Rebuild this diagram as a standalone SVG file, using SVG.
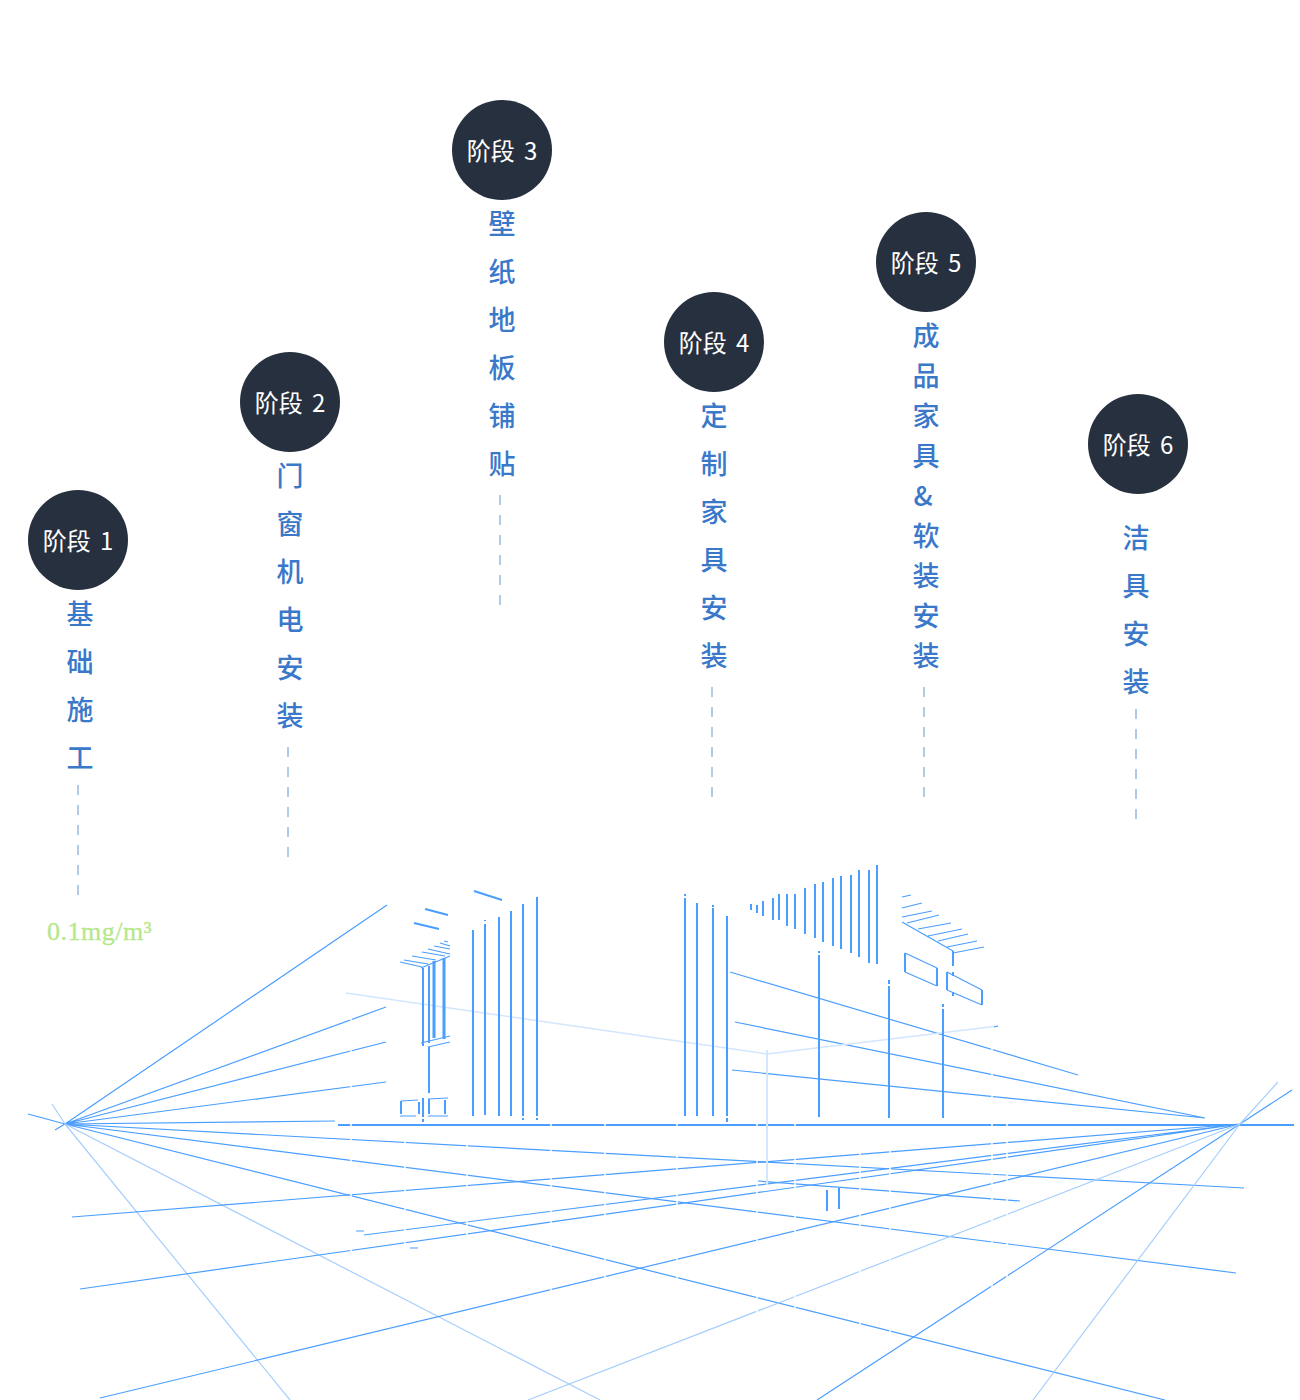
<svg xmlns="http://www.w3.org/2000/svg" width="1300" height="1400" viewBox="0 0 1300 1400">
<style>
text{font-family:"Noto Sans CJK SC","Noto Sans",sans-serif}
.c{fill:#26303f}
.s{fill:#fff;font-size:24px;text-anchor:middle;word-spacing:4px}
.t{fill:#3a78c9;font-size:27px;font-weight:500;text-anchor:middle}
.d{stroke:#96b9e0;stroke-width:1.5;stroke-dasharray:10 10;fill:none}
.b{stroke:#4a9eff;fill:none}
.w1{stroke-width:1.2}
.w2{stroke-width:2}
.w3{stroke-width:3}
.l{stroke:#a6cffb;stroke-width:1.2;fill:none}
.p{stroke:#d3e6fd;stroke-width:1.5;fill:none}
.g{stroke:#fff;stroke-width:1.5;fill:none}
.m{fill:#b4e88a;font-size:26px;font-family:"Liberation Serif",serif;letter-spacing:.5px;stroke:#b4e88a;stroke-width:.3px}
</style>
<g id="connectors">
<path class="d" d="M78 785V895M288 747V857M500 495V605M712 687V797M924 687V797M1136 709V819"/>
<g id="floor">
<path class="b w2" d="M338 1125H1294"/>
<path class="b w1" d="M65 1124L387 905M65 1124L386 1007M65 1124L386 1042M65 1124L386 1082M65 1124L335 1121M65 1124L1244 1188M65 1124L1236 1273M65 1124L1165 1400M28 1114L65 1124M55 1130L65 1124"/>
<path class="l" d="M65 1124L600 1400M65 1124L290 1400M52 1104L65 1124"/>
<path class="b w1" d="M1078 1075L730 972M1205 1118L735 1022M1205 1118L732 1070M1240 1124L72 1217M1240 1124L364 1235M1240 1124L80 1289M1240 1124L100 1398M1240 1124L817 1400M1240 1124L1292 1090"/>
<path class="l" d="M1240 1124L528 1400M1240 1124L1033 1400M1240 1124L1278 1082"/>
<path class="b w1" d="M758 1181L1020 1201M356 1231H364M410 1248H418"/>
<path class="g" d="M351 985V1260M405 1130V1260M467 1130V1300M551 1122V1300M605 1122V1310M677 1122V1320M757 1122V1330M795 1122V1330M860 1130V1340M890 1130V1340M992 1020V1340M1007 1122V1340"/>
</g>
<path class="p" d="M346 993L767 1054L998 1026"/>
<path class="p" style="stroke-width:2" d="M767 1050V1185"/>
</g>
<g id="building-left">
<path class="b w2" d="M473 930V1116M485 924V1115M499 917V1116M511 911V1116M523 904V1116M537 897V1116M523 1118V1120M537 1118V1120M485 920V921M423 1098V1117M423 1119V1122"/>
<path class="b w2" d="M474 891L502 900M425 909L448 915M414 923L439 929"/>
<path class="b w2" d="M423 968V1046M429 966V1043M429 1047V1093"/>
<path class="b w3" d="M434 961V1038M444 958V1039"/>
<path class="b w1" d="M421 1043L450 1036M428 1047L450 1042M421 968L450 956M400 962L422 967M404 960L428 964M412 956L436 960M422 952L445 956M428 949L450 954M434 946L450 949M440 943L450 946M444 941L448 942"/>
<path class="b w1" d="M401 1101L418 1100M400 1116L416 1116M428 1099L448 1098M428 1116L448 1116"/>
<path class="b w2" d="M401 1101V1114M419 1102V1114M429 1099V1114M445 1100V1114"/>
</g>
<g id="building-right">
<path class="b w2" d="M685 898V1116M697 903V1116M713 908V1116M727 916V1116M685 894V896M713 905V907M727 1118V1122M819 955V1117M819 951V953M889 986V1118M889 980V984M943 1009V1118M943 1004V1007"/>
<path class="b w2" d="M751 904V910M757 905V913M763 901V916M773 898V920M779 894V920M787 894V926M795 894V929M805 888V934M815 884V938M823 882V942M833 878V946M841 876V949M851 875V953M859 870V957M869 870V963M877 865V964"/>
<path class="b w1" d="M902 897L911 895M902 908L922 903M902 917L932 911M902 922L953 951M907 923L939 915M918 929L951 923M928 936L962 929M938 941L968 934M947 947L977 941M953 953L984 947M994 1027L998 1026"/>
<path class="b w2" d="M953 951V966M953 972V976M953 992V996"/>
<path class="b w1" d="M905 953L937 968M937 986L905 972M947 972L982 990M982 1005L947 990"/>
<path class="b w2" d="M905 953V972M937 968V986M947 972V990M982 990V1005M827 1190V1211M839 1188V1209"/>
</g>
<g id="stage-1"><circle class="c" cx="78" cy="540" r="50"/><text class="s" x="78" y="550">阶段 1</text>
<text class="t" x="80" y="624">基</text><text class="t" x="80" y="672">础</text><text class="t" x="80" y="720">施</text><text class="t" x="80" y="768">工</text></g>
<g id="stage-2"><circle class="c" cx="290" cy="402" r="50"/><text class="s" x="290" y="412">阶段 2</text>
<text class="t" x="290" y="486">门</text><text class="t" x="290" y="534">窗</text><text class="t" x="290" y="582">机</text><text class="t" x="290" y="630">电</text><text class="t" x="290" y="678">安</text><text class="t" x="290" y="726">装</text></g>
<g id="stage-3"><circle class="c" cx="502" cy="150" r="50"/><text class="s" x="502" y="160">阶段 3</text>
<text class="t" x="502" y="234">壁</text><text class="t" x="502" y="282">纸</text><text class="t" x="502" y="330">地</text><text class="t" x="502" y="378">板</text><text class="t" x="502" y="426">铺</text><text class="t" x="502" y="474">贴</text></g>
<g id="stage-4"><circle class="c" cx="714" cy="342" r="50"/><text class="s" x="714" y="352">阶段 4</text>
<text class="t" x="714" y="426">定</text><text class="t" x="714" y="474">制</text><text class="t" x="714" y="522">家</text><text class="t" x="714" y="570">具</text><text class="t" x="714" y="618">安</text><text class="t" x="714" y="666">装</text></g>
<g id="stage-5"><circle class="c" cx="926" cy="262" r="50"/><text class="s" x="926" y="272">阶段 5</text>
<text class="t" x="926" y="346">成</text><text class="t" x="926" y="386">品</text><text class="t" x="926" y="426">家</text><text class="t" x="926" y="466">具</text><text class="t" x="923" y="506">&amp;</text><text class="t" x="926" y="546">软</text><text class="t" x="926" y="586">装</text><text class="t" x="926" y="626">安</text><text class="t" x="926" y="666">装</text></g>
<g id="stage-6"><circle class="c" cx="1138" cy="444" r="50"/><text class="s" x="1138" y="454">阶段 6</text>
<text class="t" x="1136" y="548">洁</text><text class="t" x="1136" y="596">具</text><text class="t" x="1136" y="644">安</text><text class="t" x="1136" y="692">装</text></g>
<text id="value" class="m" x="47" y="940">0.1mg/m³</text>
</svg>
